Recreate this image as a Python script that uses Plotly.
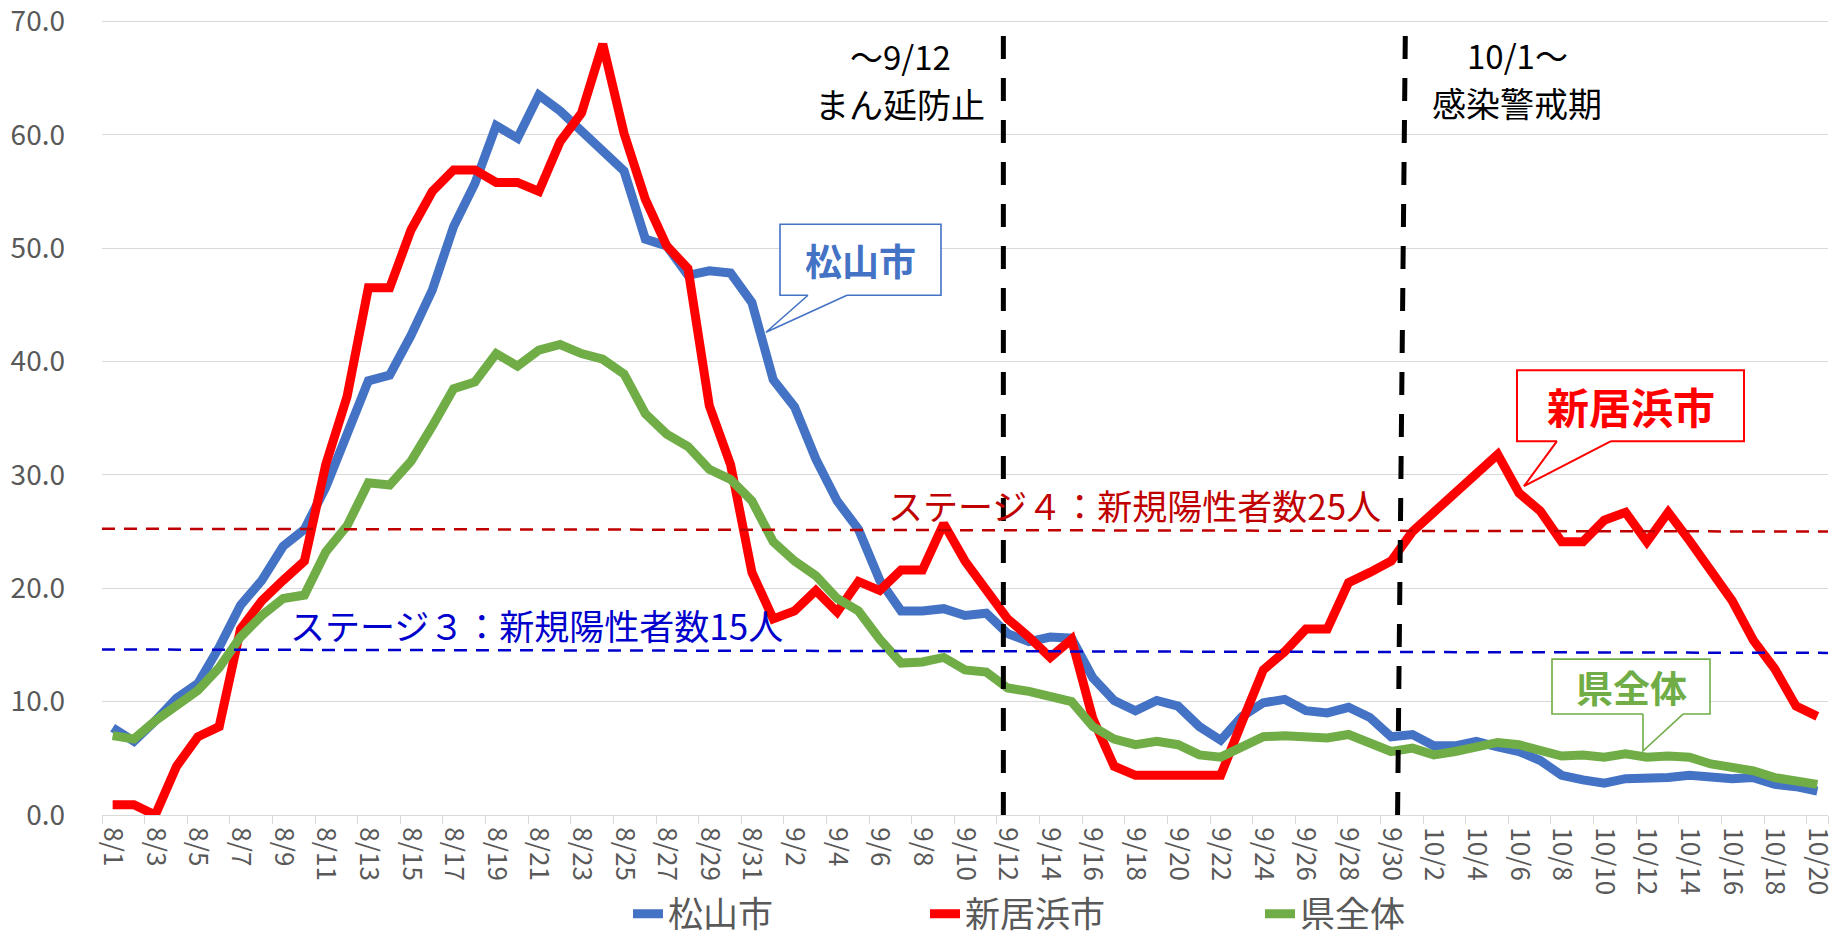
import plotly.graph_objects as go

# ---------------- data ----------------
dates = ["8/1", "8/2", "8/3", "8/4", "8/5", "8/6", "8/7", "8/8", "8/9", "8/10",
         "8/11", "8/12", "8/13", "8/14", "8/15", "8/16", "8/17", "8/18", "8/19", "8/20",
         "8/21", "8/22", "8/23", "8/24", "8/25", "8/26", "8/27", "8/28", "8/29", "8/30",
         "8/31", "9/1", "9/2", "9/3", "9/4", "9/5", "9/6", "9/7", "9/8", "9/9",
         "9/10", "9/11", "9/12", "9/13", "9/14", "9/15", "9/16", "9/17", "9/18", "9/19",
         "9/20", "9/21", "9/22", "9/23", "9/24", "9/25", "9/26", "9/27", "9/28", "9/29",
         "9/30", "10/1", "10/2", "10/3", "10/4", "10/5", "10/6", "10/7", "10/8", "10/9",
         "10/10", "10/11", "10/12", "10/13", "10/14", "10/15", "10/16", "10/17", "10/18", "10/19",
         "10/20"]

matsuyama = [7.7, 6.5, 8.3, 10.3, 11.6, 14.8, 18.5, 20.7, 23.7, 25.2,
             28.9, 33.4, 38.3, 38.8, 42.3, 46.3, 51.9, 55.7, 60.8, 59.7,
             63.5, 62.1, 60.3, 58.7, 56.8, 50.8, 50.2, 47.6, 48.0, 47.8,
             45.2, 38.4, 36.0, 31.4, 27.7, 25.2, 20.7, 18.0, 18.0, 18.2,
             17.6, 17.8, 16.0, 15.3, 15.7, 15.6, 12.1, 10.1, 9.2, 10.1,
             9.6, 7.8, 6.6, 8.7, 9.9, 10.2, 9.2, 9.0, 9.5, 8.6,
             6.9, 7.1, 6.1, 6.1, 6.5, 6.0, 5.6, 4.8, 3.5, 3.1,
             2.8, 3.2, 3.2, 3.3, 3.5, 3.3, 3.2, 3.3, 2.7, 2.5, 2.1]

niihama = [0.9, 0.9, 0.0, 4.3, 6.9, 7.8, 16.4, 18.9, 20.7, 22.4,
           30.9, 36.9, 46.5, 46.5, 51.6, 55.0, 56.9, 56.9, 55.8, 55.8,
           55.0, 59.4, 61.9, 68.0, 60.1, 54.3, 50.2, 48.2, 36.1, 30.9,
           21.4, 17.3, 18.0, 19.8, 17.9, 20.6, 19.8, 21.6, 21.6, 25.7,
           22.4, 19.9, 17.3, 15.7, 13.9, 15.5, 8.5, 4.3, 3.5, 3.5,
           3.5, 3.5, 3.5, 8.2, 12.8, 14.4, 16.4, 16.4, 20.5, 21.4,
           22.4, 25.0, 26.7, 28.4, 30.1, 31.8, 28.4, 26.8, 24.1, 24.1,
           26.0, 26.7, 24.1, 26.7, 24.2, 21.6, 18.9, 15.4, 12.9, 9.6, 8.7]

ken = [7.0, 6.7, 8.3, 9.6, 11.0, 13.0, 15.7, 17.6, 19.1, 19.4,
       23.2, 25.5, 29.3, 29.1, 31.2, 34.3, 37.6, 38.2, 40.7, 39.6,
       41.0, 41.5, 40.7, 40.2, 38.9, 35.4, 33.6, 32.5, 30.5, 29.6,
       27.7, 24.1, 22.4, 21.1, 19.1, 18.0, 15.5, 13.4, 13.5, 13.9,
       12.8, 12.6, 11.2, 10.9, 10.4, 10.0, 7.8, 6.7, 6.2, 6.5,
       6.2, 5.3, 5.1, 6.0, 6.9, 7.0, 6.9, 6.8, 7.1, 6.3,
       5.6, 5.9, 5.3, 5.6, 6.0, 6.4, 6.2, 5.8, 5.2, 5.3,
       5.1, 5.4, 5.1, 5.2, 5.1, 4.5, 4.2, 3.9, 3.3, 3.0, 2.7]

series_names = ["松山市", "新居浜市", "県全体"]
tick_labels = dates[::2]
y_ticks = [0, 10, 20, 30, 40, 50, 60, 70]

stage4_level = (25.25, 25.0)   # drawn reference line (left, right)
stage3_level = (14.6, 14.3)
stage4_text = "ステージ４：新規陽性者数25人"
stage3_text = "ステージ３：新規陽性者数15人"
period1_lines = ["～9/12", "まん延防止"]
period2_lines = ["10/1～", "感染警戒期"]

# ---------------- layout geometry ----------------
W, H = 1845, 940
Y_TOP = 70.3                     # small headroom so the 70.0 gridline is kept
BOTTOM_PX, TOP70_PX = 815, 21
L, R, B = 102, 17, H - BOTTOM_PX
T = BOTTOM_PX - (BOTTOM_PX - TOP70_PX) * Y_TOP / 70.0
PW, PH = W - L - R, H - T - B

def px(x):
    return (x - L) / PW

def py(y):
    return (H - B - y) / PH

FONT = "Noto Sans CJK JP, Noto Sans, sans-serif"
BLUE, RED, GREEN = "#4472C4", "#FF0000", "#70AD47"
colors = [BLUE, RED, GREEN]

fig = go.Figure()
legend_ids = ["legend", "legend2", "legend3"]
for name, vals, col, lg in zip(series_names, [matsuyama, niihama, ken], colors, legend_ids):
    fig.add_trace(go.Scatter(x=dates, y=vals, mode="lines", name=name, legend=lg,
                             line=dict(color=col, width=9)))

shapes = []
shapes.append(dict(type="line", xref="paper", yref="y", x0=0, x1=1,
                   y0=stage4_level[0], y1=stage4_level[1], layer="above",
                   line=dict(color="#C00000", width=2.5, dash="13px,9px")))
shapes.append(dict(type="line", xref="paper", yref="y", x0=0, x1=1,
                   y0=stage3_level[0], y1=stage3_level[1], layer="above",
                   line=dict(color="#0000CC", width=2.5, dash="13px,9px")))
i1 = dates.index("9/12") - 0.2
i2 = dates.index("10/1") - 0.5
shapes.append(dict(type="line", xref="x", yref="y", x0=i1, x1=i1, y0=0, y1=70,
                   layer="above", line=dict(color="black", width=5, dash="23px,19px")))
shapes.append(dict(type="line", xref="x", yref="y", x0=i2 - 0.2, x1=i2 + 0.17, y0=0, y1=70,
                   layer="above", line=dict(color="black", width=5, dash="23px,19px")))

annotations = []

def callout(box, base, tip, text, color, size, lw):
    x0, y0, x1, y1 = box
    shapes.append(dict(type="rect", xref="paper", yref="paper",
                       x0=px(x0), x1=px(x1), y0=py(y0), y1=py(y1),
                       fillcolor="white", layer="above", line=dict(color=color, width=lw)))
    bx1, bx2 = base
    tx, ty = tip
    cover = (f"M{px(bx1)},{py(y1 - 3)} L{px(bx1)},{py(y1)} L{px(tx)},{py(ty)} "
             f"L{px(bx2)},{py(y1)} L{px(bx2)},{py(y1 - 3)} Z")
    shapes.append(dict(type="path", xref="paper", yref="paper", path=cover,
                       fillcolor="white", layer="above", line=dict(width=0)))
    edge = f"M{px(bx1)},{py(y1)} L{px(tx)},{py(ty)} L{px(bx2)},{py(y1)}"
    shapes.append(dict(type="path", xref="paper", yref="paper", path=edge,
                       layer="above", line=dict(color=color, width=lw)))
    annotations.append(dict(xref="paper", yref="paper", x=px((x0 + x1) / 2), y=py((y0 + y1) / 2),
                            text=f"<b>{text}</b>", showarrow=False, xanchor="center", yanchor="middle",
                            font=dict(family=FONT, size=size, color=color)))

callout((780, 224, 941, 295), (808, 847), (766, 332), series_names[0], BLUE, 37, 1.6)
callout((1517, 370, 1744, 441), (1557, 1611), (1524, 486), series_names[1], RED, 42, 2)
callout((1552, 659, 1710, 714), (1643, 1683), (1643, 751), series_names[2], GREEN, 37, 1.6)

def label(x, y, text, color, size=34):
    annotations.append(dict(xref="paper", yref="paper", x=px(x), y=py(y), text=text, showarrow=False,
                            xanchor="center", yanchor="middle",
                            font=dict(family=FONT, size=size, color=color)))

label(900, 56, period1_lines[0], "black", 33)
label(900, 103, period1_lines[1], "black", 34)
label(1517, 55, period2_lines[0], "black", 33)
label(1517, 102, period2_lines[1], "black", 34)
label(1134, 504, stage4_text, "#C00000", 35)
label(536, 624, stage3_text, "#0000CC", 35)

# one legend per series, placed like the reference's legend entries
legend_text_x = [671, 968, 1303]
legend_common = dict(orientation="h", xanchor="left", y=py(914), yanchor="middle",
                     font=dict(family=FONT, size=35, color="#595959"), bgcolor="rgba(0,0,0,0)")

fig.update_layout(
    width=W, height=H,
    margin=dict(l=L, r=R, t=T, b=B, pad=0, autoexpand=False),
    paper_bgcolor="white", plot_bgcolor="white",
    font=dict(family=FONT, color="#595959"),
    showlegend=True,
    legend=dict(x=px(legend_text_x[0] - 43), **legend_common),
    legend2=dict(x=px(legend_text_x[1] - 43), **legend_common),
    legend3=dict(x=px(legend_text_x[2] - 43), **legend_common),
    shapes=shapes,
    annotations=annotations,
    xaxis=dict(type="category", range=[-0.5, len(dates) - 0.5], automargin=False,
               tickmode="array", tickvals=tick_labels, ticktext=tick_labels,
               tickangle=90, tickson="boundaries", ticks="outside", ticklen=8,
               tickcolor="#D9D9D9", tickwidth=1.3,
               showline=True, linecolor="#D9D9D9", linewidth=1.3,
               showgrid=False, ticklabelstandoff=6,
               tickfont=dict(family=FONT, size=26, color="#595959")),
    yaxis=dict(range=[0, Y_TOP], tickmode="array", tickvals=y_ticks, tickformat=".1f",
               automargin=False, ticklabeloverflow="allow",
               showgrid=True, gridcolor="#D9D9D9", gridwidth=1.3, zeroline=False,
               showline=False, ticks="", ticklabelstandoff=36,
               tickfont=dict(family=FONT, size=28, color="#595959")),
)

fig.write_html("out.html", config={"displayModeBar": False},
               post_script="document.body.style.margin='0px';")
